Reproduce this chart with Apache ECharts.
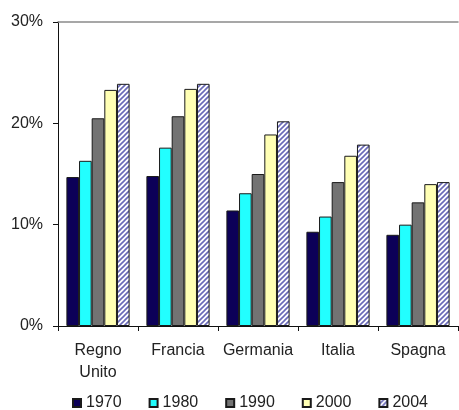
<!DOCTYPE html>
<html>
<head>
<meta charset="utf-8">
<script src="https://cdn.jsdelivr.net/npm/echarts@6/dist/echarts.min.js"></script>
<style>
  html, body { margin: 0; padding: 0; background: #fff; }
  #chart { width: 459px; height: 410px; }
</style>
</head>
<body>
<div id="chart"></div>
<script>
// Paesi e anni
const categories = ['Regno\nUnito', 'Francia', 'Germania', 'Italia', 'Spagna'];
const years = ['1970', '1980', '1990', '2000', '2004'];

// Quote percentuali per anno
const values1970 = [14.7, 14.8, 11.4, 9.3, 9.0];
const values1980 = [16.3, 17.6, 13.1, 10.8, 10.0];
const values1990 = [20.5, 20.7, 15.0, 14.2, 12.2];
const values2000 = [23.3, 23.4, 18.9, 16.8, 14.0];
const values2004 = [23.9, 23.9, 20.2, 17.9, 14.2];

const yTicks = [0, 10, 20, 30];

// Tratteggio diagonale per la serie 2004
function stripePattern() {
  const size = 5;
  const c = document.createElement('canvas');
  c.width = size; c.height = size;
  const g = c.getContext('2d');
  g.fillStyle = '#ffffff';
  g.fillRect(0, 0, size, size);
  g.strokeStyle = '#6a6ab8';
  g.lineWidth = 1.6;
  g.beginPath();
  g.moveTo(-1, size + 1); g.lineTo(size + 1, -1);
  g.moveTo(-1, 1); g.lineTo(1, -1);
  g.moveTo(size - 1, size + 1); g.lineTo(size + 1, size - 1);
  g.stroke();
  return c;
}

const fills = ['#0c0058', '#22ffff', '#737373', '#ffffb4', { image: stripePattern(), repeat: 'repeat' }];
const seriesValues = [values1970, values1980, values1990, values2000, values2004];

const font = 'Liberation Sans, Arial, sans-serif';
const chart = echarts.init(document.getElementById('chart'), null, { renderer: 'canvas' });

chart.setOption({
  animation: false,
  backgroundColor: '#ffffff',
  textStyle: { fontFamily: font },
  grid: { left: 58, right: 1, top: 22, bottom: 84, containLabel: false },
  legend: {
    data: years,
    left: 72,
    top: 395,
    padding: 0,
    itemWidth: 8,
    itemHeight: 8,
    itemGap: 27,
    icon: 'rect',
    textStyle: { fontSize: 16, color: '#222', fontFamily: font }
  },
  xAxis: [
    {
      type: 'category',
      data: categories,
      axisLine: { lineStyle: { color: '#111', width: 1 } },
      axisTick: { show: true, length: 5, lineStyle: { color: '#111' } },
      axisLabel: { interval: 0, fontSize: 16, color: '#222', margin: 14, lineHeight: 22, fontFamily: font }
    },
    {
      type: 'category',
      data: categories,
      position: 'top',
      axisLine: { lineStyle: { color: '#8a8a8a', width: 1.5 } },
      axisTick: { show: false },
      axisLabel: { show: false }
    }
  ],
  yAxis: {
    type: 'value',
    min: yTicks[0],
    max: yTicks[yTicks.length - 1],
    interval: 10,
    axisLine: { show: true, lineStyle: { color: '#111', width: 1 } },
    axisTick: { show: true, length: 5, lineStyle: { color: '#111' } },
    splitLine: { show: false },
    axisLabel: { formatter: '{value}%', fontSize: 16, color: '#222', margin: 15, fontFamily: font }
  },
  series: years.map((y, i) => ({
    name: y,
    type: 'bar',
    data: seriesValues[i],
    barGap: '0%',
    barCategoryGap: '21%',
    itemStyle: { color: fills[i], borderColor: '#1a1a1a', borderWidth: 1 }
  }))
});
</script>
</body>
</html>
